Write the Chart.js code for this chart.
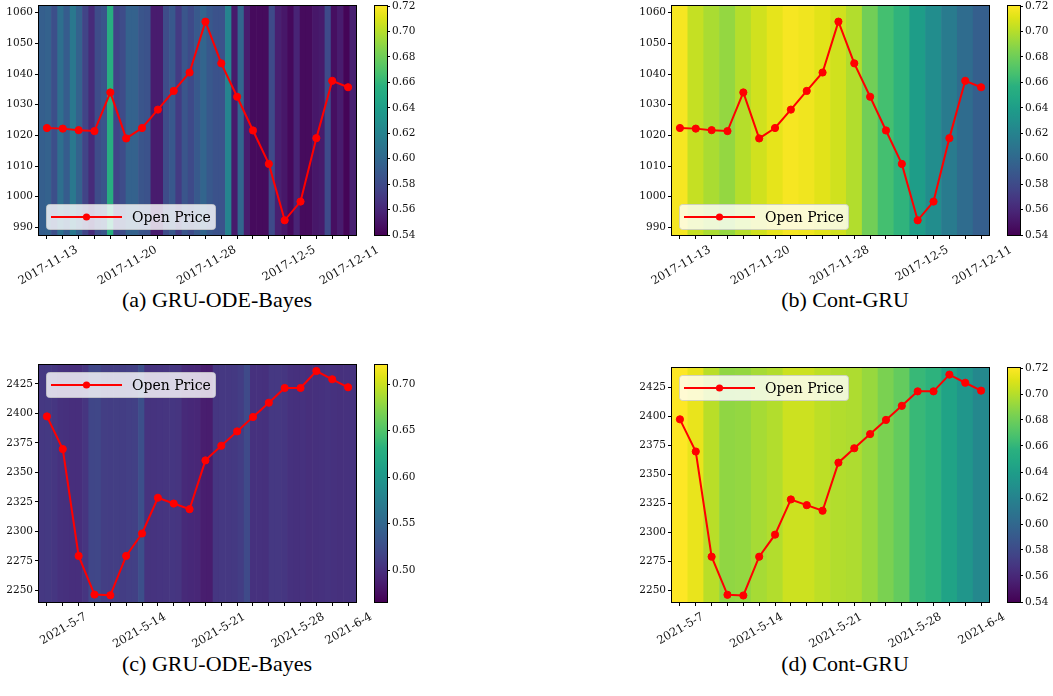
<!DOCTYPE html>
<html>
<head>
<meta charset="utf-8">
<title>Open Price</title>
<script src="https://cdn.jsdelivr.net/npm/chart.js@4.4.1/dist/chart.umd.min.js"></script>
<style>
  html, body { margin: 0; padding: 0; background: #fff; }
  #fig { position: relative; width: 1053px; height: 696px; overflow: hidden; }
  #fig canvas { position: absolute; }
  .caption {
    position: absolute;
    font-family: "Liberation Serif", "Times New Roman", serif;
    font-size: 22px;
    color: #000;
    white-space: nowrap;
    transform: translate(-50%, -50%);
  }
</style>
</head>
<body>
<div id="fig">
  <div class="caption" style="left:217px;top:300px">(a) GRU-ODE-Bayes</div>
  <div class="caption" style="left:845px;top:300px">(b) Cont-GRU</div>
  <div class="caption" style="left:217px;top:664px">(c) GRU-ODE-Bayes</div>
  <div class="caption" style="left:845px;top:664px">(d) Cont-GRU</div>
</div>
<script>
// tick labels (only a few trading days are labelled)
const labels2017 = ['2017-11-13', '', '', '', '', '2017-11-20', '', '', '', '', '2017-11-28', '', '', '', '', '2017-12-5', '', '', '', '2017-12-11'];
const labels2021c = ['', '2021-5-7', '', '', '', '', '2021-5-14', '', '', '', '', '2021-5-21', '', '', '', '', '2021-5-28', '', '', '2021-6-4'];
const labels2021d = ['2021-5-7', '', '', '', '', '2021-5-14', '', '', '', '', '2021-5-21', '', '', '', '', '2021-5-28', '', '', '', '2021-6-4'];

// open prices
const open2017 = [1022.4, 1022.2, 1021.7, 1021.4, 1034.0, 1019.0, 1022.4, 1028.4, 1034.5, 1040.5,
                  1057.1, 1043.5, 1032.6, 1021.6, 1010.7, 992.3, 998.4, 1019.1, 1037.8, 1035.7];
const open2021 = [2397.5, 2369.8, 2279.2, 2246.4, 2245.8, 2279.2, 2298.2, 2328.5, 2323.6, 2318.8,
                  2360.2, 2372.6, 2384.8, 2397.0, 2409.1, 2421.6, 2421.6, 2436.0, 2429.0, 2422.2];

// background heat values
const heatA = [0.594, 0.596, 0.583, 0.605, 0.592, 0.612, 0.596, 0.576, 0.562, 0.581,
               0.587, 0.655, 0.576, 0.581, 0.596, 0.596, 0.587, 0.585, 0.554, 0.554,
               0.581, 0.589, 0.571, 0.587, 0.580, 0.590, 0.598, 0.589, 0.585, 0.585,
               0.621, 0.553, 0.598, 0.554, 0.545, 0.545, 0.545, 0.580, 0.556, 0.551,
               0.544, 0.558, 0.545, 0.545, 0.551, 0.553, 0.580, 0.547, 0.554, 0.542, 0.556];
const heatB = [0.718, 0.704, 0.697, 0.691, 0.700, 0.707, 0.713, 0.718, 0.716, 0.712,
               0.707, 0.699, 0.681, 0.666, 0.659, 0.640, 0.627, 0.614, 0.603, 0.594];
const heatC = [0.507, 0.508, 0.506, 0.502, 0.501, 0.499, 0.499, 0.505, 0.519, 0.520,
               0.512, 0.511, 0.512, 0.511, 0.513, 0.514, 0.527, 0.503, 0.503, 0.504,
               0.505, 0.506, 0.505, 0.496, 0.495, 0.494, 0.487, 0.486, 0.506, 0.507,
               0.507, 0.508, 0.511, 0.522, 0.502, 0.502, 0.501, 0.507, 0.507, 0.506,
               0.502, 0.501, 0.502, 0.500, 0.501, 0.502, 0.503, 0.502, 0.501, 0.502, 0.503];
const heatD = [0.720, 0.714, 0.701, 0.690, 0.691, 0.696, 0.699, 0.706, 0.706, 0.702,
               0.699, 0.698, 0.692, 0.684, 0.677, 0.662, 0.658, 0.644, 0.634, 0.624];

const VIRIDIS = ['#440154', '#471365', '#482475', '#463480', '#414487', '#3b528b', '#355f8d',
                 '#2f6c8e', '#2a788e', '#25848e', '#21918c', '#1e9c89', '#22a884', '#2ab07f',
                 '#44bf70', '#5ec962', '#7ad151', '#9bd93c', '#bddf26', '#dfe318', '#fde725'];

function hexRgb(h) {
  return [parseInt(h.slice(1, 3), 16), parseInt(h.slice(3, 5), 16), parseInt(h.slice(5, 7), 16)];
}

function viridis(t) {
  t = Math.min(1, Math.max(0, t));
  const p = t * (VIRIDIS.length - 1);
  const i = Math.min(Math.floor(p), VIRIDIS.length - 2);
  const f = p - i;
  const a = hexRgb(VIRIDIS[i]), b = hexRgb(VIRIDIS[i + 1]);
  const c = a.map((v, k) => Math.round(v + (b[k] - v) * f));
  return `rgb(${c[0]},${c[1]},${c[2]})`;
}

const xTickFont = { family: '"DejaVu Serif", serif', size: 11.5 };
const yTickFont = { family: '"DejaVu Serif", serif', size: 10.5 };

// black box round the plot area (matplotlib spines)
const frame = {
  id: 'frame',
  afterDraw(chart) {
    const { ctx, chartArea: a } = chart;
    ctx.save();
    ctx.strokeStyle = '#000';
    ctx.lineWidth = 1;
    ctx.strokeRect(a.left - 0.5, a.top - 0.5, a.right - a.left + 1, a.bottom - a.top + 1);
    ctx.restore();
  }
};

// legend drawn inside the axes like matplotlib does
const insideLegend = {
  id: 'insideLegend',
  afterDatasetsDraw(chart, args, opts) {
    const ds = chart.data.datasets[0];
    const { ctx, chartArea: a } = chart;
    const w = 169, h = 25;
    const x = a.left + 7;
    const y = opts.where === 'top' ? a.top + 7 : a.bottom - 6 - h;
    ctx.save();
    ctx.beginPath();
    ctx.roundRect(x + 0.5, y + 0.5, w, h, 3);
    ctx.fillStyle = 'rgba(255,255,255,0.8)';
    ctx.fill();
    ctx.strokeStyle = 'rgba(204,204,204,0.8)';
    ctx.lineWidth = 1;
    ctx.stroke();
    const cy = y + h / 2 + 0.5;
    ctx.beginPath();
    ctx.moveTo(x + 5, cy);
    ctx.lineTo(x + 76, cy);
    ctx.strokeStyle = ds.borderColor;
    ctx.lineWidth = ds.borderWidth;
    ctx.stroke();
    ctx.beginPath();
    ctx.arc(x + 40.5, cy, ds.pointRadius, 0, Math.PI * 2);
    ctx.fillStyle = ds.borderColor;
    ctx.fill();
    ctx.fillStyle = '#000';
    ctx.font = '14px "DejaVu Serif", serif';
    ctx.textBaseline = 'middle';
    ctx.fillText(ds.label, x + 86, cy + 1);
    ctx.restore();
  }
};

// viridis gradient for the colour bar
const cbarFill = {
  id: 'cbarFill',
  beforeDatasetsDraw(chart) {
    const { ctx, chartArea: a } = chart;
    const g = ctx.createLinearGradient(0, a.bottom, 0, a.top);
    VIRIDIS.forEach((c, i) => g.addColorStop(i / (VIRIDIS.length - 1), c));
    ctx.save();
    ctx.fillStyle = g;
    ctx.fillRect(a.left, a.top, a.right - a.left, a.bottom - a.top);
    ctx.restore();
  }
};

function addCanvas(left, top, w, h) {
  const c = document.createElement('canvas');
  c.width = w;
  c.height = h;
  c.style.left = left + 'px';
  c.style.top = top + 'px';
  c.style.width = w + 'px';
  c.style.height = h + 'px';
  document.getElementById('fig').appendChild(c);
  return c;
}

function drawPanel(p) {
  const H = p.bottom - p.top + 6 + 70;
  const main = addCanvas(p.left - 39, p.top - 6, 420, H);
  new Chart(main, {
    type: 'bar',
    data: {
      labels: p.labels,
      datasets: [
        {
          type: 'line',
          label: 'Open Price',
          data: p.prices,
          xAxisID: 'x',
          yAxisID: 'y',
          borderColor: '#ff0000',
          backgroundColor: '#ff0000',
          pointBackgroundColor: '#ff0000',
          pointBorderColor: '#ff0000',
          borderWidth: 2,
          pointRadius: 3.6,
          pointBorderWidth: 1,
          tension: 0,
          order: 0
        },
        {
          type: 'bar',
          label: 'heat',
          data: p.heat.map(() => [p.yMin, p.yMax]),
          xAxisID: 'xs',
          yAxisID: 'y',
          backgroundColor: p.heat.map(v => viridis((v - p.cMin) / (p.cMax - p.cMin))),
          borderWidth: 0,
          grouped: false,
          barPercentage: 1,
          categoryPercentage: 1,
          order: 1
        }
      ]
    },
    options: {
      responsive: false,
      animation: false,
      events: [],
      datasets: { bar: { barPercentage: 1, categoryPercentage: 1 } },
      layout: { padding: { left: 0, top: 6, right: 64, bottom: 0 }, autoPadding: false },
      plugins: {
        legend: { display: false },
        tooltip: { enabled: false },
        insideLegend: { where: p.legendAt }
      },
      scales: {
        xs: {
          type: 'category',
          labels: p.heat.map((_, i) => String(i)),
          offset: true,
          display: false,
          ticks: { autoSkip: false }
        },
        x: {
          type: 'category',
          offset: true,
          grid: { offset: false, drawOnChartArea: false, tickLength: 4, color: '#000', lineWidth: 1 },
          border: { display: false },
          ticks: {
            autoSkip: false,
            minRotation: 30,
            maxRotation: 30,
            labelOffset: p.tickShift,
            padding: 4,
            color: '#111',
            font: xTickFont
          },
          afterFit: s => { s.height = 70; s.paddingLeft = 0; s.paddingRight = 0; }
        },
        y: {
          type: 'linear',
          min: p.yMin,
          max: p.yMax,
          beginAtZero: false,
          grid: { drawOnChartArea: false, tickLength: 4, color: '#000', lineWidth: 1 },
          border: { display: false },
          ticks: {
            stepSize: p.yStep,
            includeBounds: false,
            padding: 2,
            color: '#111',
            font: yTickFont,
            callback: v => String(Math.round(v))
          },
          afterFit: s => { s.width = 39; s.paddingTop = 0; s.paddingBottom = 0; }
        }
      }
    },
    plugins: [insideLegend, frame]
  });

  const cbH = p.cbBottom - p.cbTop + 6 + 15;
  const cb = addCanvas(p.cbLeft - 15, p.cbTop - 6, 77, cbH);
  new Chart(cb, {
    type: 'bar',
    data: { labels: [], datasets: [] },
    options: {
      responsive: false,
      animation: false,
      events: [],
      layout: { padding: { left: 15, top: 6, right: 0, bottom: 15 }, autoPadding: false },
      plugins: { legend: { display: false }, tooltip: { enabled: false } },
      scales: {
        x: { display: false },
        y: {
          type: 'linear',
          position: 'right',
          min: p.cMin,
          max: p.cMax,
          beginAtZero: false,
          grid: { drawOnChartArea: false, tickLength: 3, color: '#000', lineWidth: 1 },
          border: { display: false },
          ticks: {
            stepSize: p.cStep,
            includeBounds: false,
            padding: 2,
            color: '#111',
            font: yTickFont,
            callback: v => v.toFixed(2)
          },
          afterFit: s => { s.width = 50; s.paddingTop = 0; s.paddingBottom = 0; }
        }
      }
    },
    plugins: [cbarFill, frame]
  });
}

drawPanel({ left: 39, top: 6, bottom: 235, cbLeft: 375, cbTop: 6, cbBottom: 235,
  labels: labels2017, prices: open2017, heat: heatA, yMin: 987.5, yMax: 1062.2, yStep: 10,
  cMin: 0.54, cMax: 0.72, cStep: 0.02, legendAt: 'bottom', tickShift: 30 });
drawPanel({ left: 672, top: 6, bottom: 235, cbLeft: 1008, cbTop: 6, cbBottom: 235,
  labels: labels2017, prices: open2017, heat: heatB, yMin: 987.5, yMax: 1062.2, yStep: 10,
  cMin: 0.54, cMax: 0.72, cStep: 0.02, legendAt: 'bottom', tickShift: 30 });
drawPanel({ left: 39, top: 365, bottom: 602, cbLeft: 375, cbTop: 365, cbBottom: 602,
  labels: labels2021c, prices: open2021, heat: heatC, yMin: 2240.1, yMax: 2441.1, yStep: 25,
  cMin: 0.466, cMax: 0.7204, cStep: 0.05, legendAt: 'top', tickShift: 23 });
drawPanel({ left: 672, top: 368, bottom: 602, cbLeft: 1008, cbTop: 368, cbBottom: 602,
  labels: labels2021d, prices: open2021, heat: heatD, yMin: 2240.2, yMax: 2441.7, yStep: 25,
  cMin: 0.54, cMax: 0.72, cStep: 0.02, legendAt: 'top', tickShift: 23 });
</script>
</body>
</html>
